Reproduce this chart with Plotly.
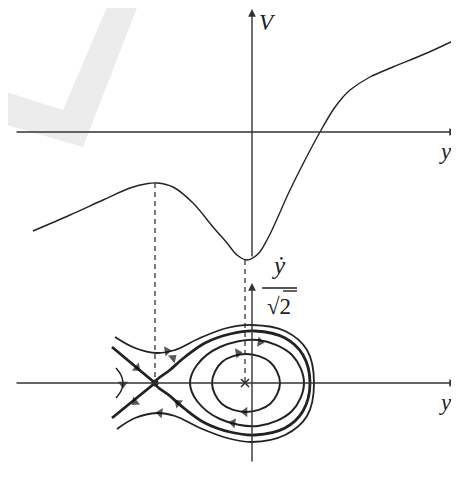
import plotly.graph_objects as go

# potential V(y): y and V
v_y = [-21.9, -18.2, -14.9, -12.2, -10.4, -9.5, -7.9, -5.9, -3.9, -2.5, -1.5, -0.5, 0.6, 1.6, 3.8, 5.3, 6.8, 8.1, 9.1, 9.8, 11.8, 14.1, 17.5, 20.7]
v_V = [-9.9, -8.3, -6.8, -5.6, -5.15, -5.1, -5.5, -7.1, -9.5, -11.1, -12.3, -12.8, -12.2, -10.6, -5.8, -2.8, 0.0, 2.2, 3.5, 4.2, 5.5, 6.5, 7.9, 9.4]

# phase portrait (y, ydot/sqrt2)
saddle = (-9.7, 0.0)
centre = (-0.7, 0.0)
inner_y = [2.8, 1.8, -0.6, -3.0, -4.0, -3.0, -0.6, 1.8, 2.8]
inner_v = [0.0, 2.1, 2.9, 2.1, 0.0, -2.1, -2.9, -2.1, 0.0]
mid_y = [5.2, 4.0, 0.6, -3.2, -5.5, -6.2, -5.5, -3.2, 0.6, 4.0, 5.2]
mid_v = [0.0, 2.8, 4.3, 3.6, 1.8, 0.0, -1.8, -3.6, -4.3, -2.8, 0.0]
loop_y = [-9.7, -8.2, -6.7, -4.7, -2.2, 0.3, 3.3, 5.1, 5.8, 5.1, 3.3, 0.3, -2.2, -4.7, -6.7, -8.2, -9.7]
loop_v = [0.0, 1.3, 2.6, 4.0, 4.9, 5.2, 4.5, 2.8, 0.0, -2.8, -4.5, -5.2, -4.9, -4.0, -2.6, -1.3, 0.0]
legs_y = [-14.0, -9.7, -14.0]
legs_v = [3.6, 0.0, -3.5]
outer_y = [-13.7, -11.7, -9.5, -7.7, -5.2, -2.5, 0.0, 3.3, 5.5, 6.2, 5.5, 3.3, 0.0, -2.5, -5.2, -7.7, -9.5, -11.7, -13.5]
outer_v = [4.6, 3.5, 3.0, 3.3, 4.5, 5.5, 5.8, 5.2, 3.3, 0.0, -3.3, -5.2, -5.9, -5.5, -4.5, -3.3, -3.0, -3.5, -4.6]
arc_y = [-13.6, -13.1, -12.9, -13.1, -13.6]
arc_v = [1.5, 0.8, 0.0, -0.8, -1.5]

# arrowheads on the trajectories: (tail y, tail v, head y, head v)
arrows = [
    (-9.2, 3.1, -8.5, 3.2), (-8.4, -3.1, -9.2, -3.0),
    (-12.3, 2.2, -11.5, 1.5), (-11.0, -1.3, -11.7, -1.9),
    (-8.5, 2.0, -7.9, 2.5), (-6.8, -2.5, -7.4, -2.0),
    (0.1, 4.2, 0.8, 4.1), (-1.2, -4.1, -1.9, -4.0),
    (-2.0, 2.9, -1.4, 3.0), (0.0, -2.9, -0.7, -2.9),
    (-12.9, 0.4, -12.9, -0.1),
]

INK = "#222222"
SERIF = "Liberation Serif"

fig = go.Figure()

# watermark tick, pale grey
fig.add_shape(type="path", xref="x", yref="y", layer="below", line_width=0, fillcolor="#ececec",
              path="M -25.2 4.2 L -18.9 2.2 L -14.2 13.2 L -11.2 13.2 L -16.9 -1.5 L -25.2 0.9 Z")


def curve(x, y, width, yaxis="y2"):
    fig.add_trace(go.Scatter(x=x, y=y, mode="lines", yaxis=yaxis, hoverinfo="skip", cliponaxis=False,
                             line=dict(color=INK, width=width, shape="spline", smoothing=1.0)))


curve(v_y, v_V, 1.4, yaxis="y")
curve(inner_y, inner_v, 2.0)
curve(mid_y, mid_v, 2.0)
curve(outer_y, outer_v, 1.8)
curve(loop_y, loop_v, 2.8)
fig.add_trace(go.Scatter(x=legs_y, y=legs_v, mode="lines", yaxis="y2", hoverinfo="skip",
                         line=dict(color=INK, width=2.8)))
curve(arc_y, arc_v, 1.5)

for ty, tv, hy, hv in arrows:
    fig.add_trace(go.Scatter(x=[ty, hy], y=[tv, hv], mode="markers", yaxis="y2", hoverinfo="skip",
                             marker=dict(symbol="triangle-up", angleref="previous", size=[0, 9],
                                         color="#111", line_width=0)))

# fixed points
fig.add_trace(go.Scatter(x=[saddle[0]], y=[saddle[1]], mode="markers", yaxis="y2", hoverinfo="skip",
                         marker=dict(symbol="circle-open", size=6, color=INK, line_width=1.2)))
fig.add_trace(go.Scatter(x=[centre[0]], y=[centre[1]], mode="markers", yaxis="y2", hoverinfo="skip",
                         marker=dict(symbol="x-thin", size=8, line=dict(color=INK, width=1.4))))

# dashed guides from the extrema of V down to the fixed points
vmax = max(v_V[:8])
vmin = min(v_V)
for x0, vtop in ((saddle[0], vmax), (centre[0], vmin)):
    fig.add_shape(type="line", xref="x", yref="y", x0=x0, x1=x0, y0=vtop, y1=-25.1,
                  line=dict(color=INK, width=1.2, dash="5px,4px"))

# axes drawn as arrows
ax_kw = dict(showarrow=True, arrowhead=2, arrowsize=1.1, arrowwidth=1.4, arrowcolor="#333",
             axref="x", text="")
fig.add_annotation(x=20.5, y=0, ax=-23.7, ay=0, yref="y", ayref="y", **ax_kw)
fig.add_annotation(x=0, y=12.3, ax=0, ay=-12.6, yref="y", ayref="y", **ax_kw)
fig.add_annotation(x=20.5, y=0, ax=-23.7, ay=0, yref="y2", ayref="y2", **ax_kw)
fig.add_annotation(x=0, y=10.0, ax=0, ay=-8.0, yref="y2", ayref="y2", **ax_kw)

lab = dict(family=SERIF, size=23, color="#222")
fig.add_annotation(x=1.5, y=11.0, yref="y", text="<i>V</i>", showarrow=False, font=lab)
fig.add_annotation(x=19.3, y=-1.9, yref="y", text="<i>y</i>", showarrow=False, font=lab)
fig.add_annotation(x=19.3, y=-1.9, yref="y2", text="<i>y</i>", showarrow=False, font=lab)
fig.add_annotation(x=2.6, y=11.8, yref="y2", text="<i>y\u0307</i>", showarrow=False,
                   font=dict(family=SERIF, size=25, color="#222"))
fig.add_annotation(x=2.7, y=7.7, yref="y2", text="\u221a2", showarrow=False,
                   font=dict(family=SERIF, size=23, color="#222"))
fig.add_shape(type="line", xref="x", yref="y2", x0=1.0, x1=4.5, y0=9.5, y1=9.5,
              line=dict(color="#222", width=1.6))
fig.add_shape(type="line", xref="x", yref="y2", x0=3.1, x1=4.5, y0=9.2, y1=9.2,
              line=dict(color="#555", width=1.8))

# the page body has an 8 px margin: the figure is sized to fit inside it without scrollbars,
# and the ranges are shifted so the drawing keeps its place in the window
fig.update_layout(
    width=451, height=455, margin=dict(l=0, r=0, t=0, b=0),
    paper_bgcolor="white", plot_bgcolor="white", showlegend=False,
    xaxis=dict(range=[-24.4, 20.7], visible=False, fixedrange=True),
    yaxis=dict(range=[-33.1, 12.4], visible=False, fixedrange=True),
    yaxis2=dict(range=[-8.0, 37.5], visible=False, overlaying="y", fixedrange=True),
)
fig.write_html("out.html")
